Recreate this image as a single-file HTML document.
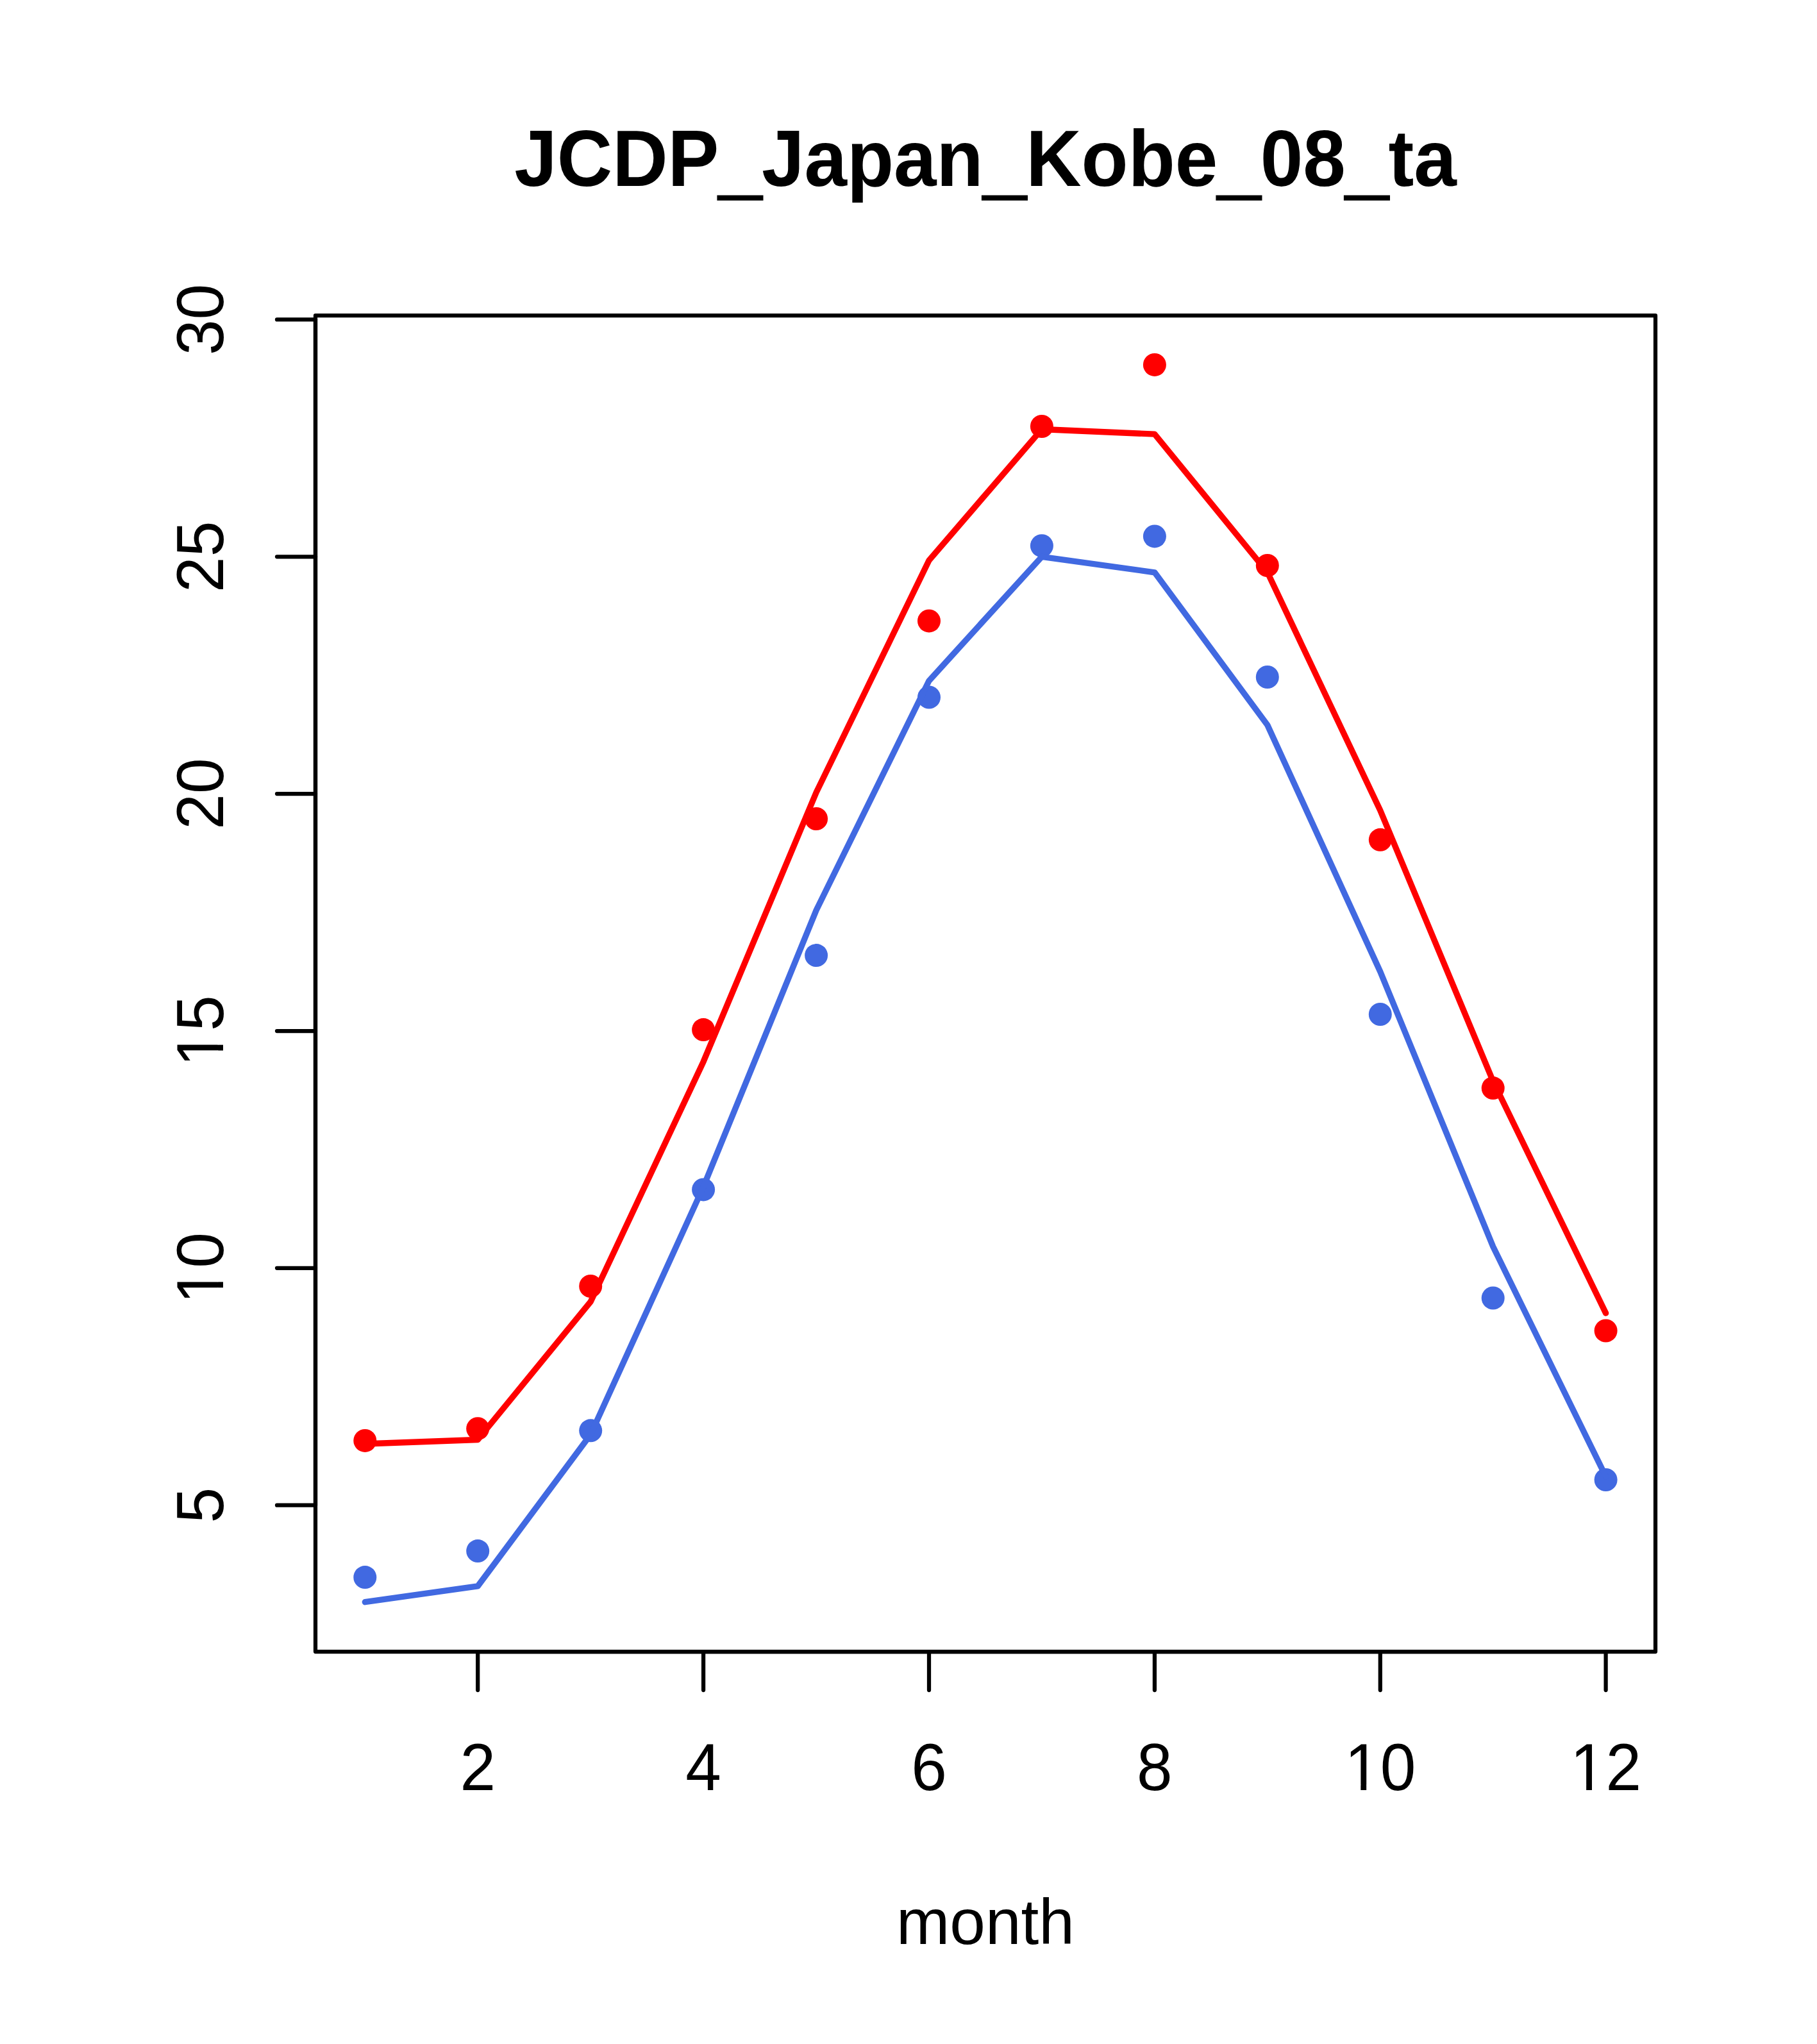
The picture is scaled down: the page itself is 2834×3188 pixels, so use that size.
<!DOCTYPE html>
<html lang="en"><head><meta charset="utf-8"><title>JCDP_Japan_Kobe_08_ta</title>
<style>html,body{margin:0;padding:0;background:#fff}body{width:2834px;height:3188px;overflow:hidden}svg{display:block}text{font-family:"Liberation Sans",sans-serif;fill:#000}</style></head><body>
<svg width="2834" height="3188" viewBox="0 0 2834 3188">
<rect x="0" y="0" width="2834" height="3188" fill="#fff"/>
<g fill="#FF0000" stroke="none"><circle cx="569.3" cy="2246.9" r="18"/><circle cx="745.2" cy="2228.2" r="18"/><circle cx="921.2" cy="2006.0" r="18"/><circle cx="1097.1" cy="1606.1" r="18"/><circle cx="1273.1" cy="1277.0" r="18"/><circle cx="1449.0" cy="968.4" r="18"/><circle cx="1624.9" cy="665.0" r="18"/><circle cx="1800.9" cy="568.9" r="18"/><circle cx="1976.8" cy="882.0" r="18"/><circle cx="2152.8" cy="1309.8" r="18"/><circle cx="2328.7" cy="1697.1" r="18"/><circle cx="2504.6" cy="2075.5" r="18"/></g>
<g fill="#4169E1" stroke="none"><circle cx="569.3" cy="2460.1" r="18"/><circle cx="745.2" cy="2419.1" r="18"/><circle cx="921.2" cy="2231.3" r="18"/><circle cx="1097.1" cy="1855.4" r="18"/><circle cx="1273.1" cy="1490.1" r="18"/><circle cx="1449.0" cy="1087.5" r="18"/><circle cx="1624.9" cy="851.2" r="18"/><circle cx="1800.9" cy="836.4" r="18"/><circle cx="1976.8" cy="1056.0" r="18"/><circle cx="2152.8" cy="1582.0" r="18"/><circle cx="2328.7" cy="2024.5" r="18"/><circle cx="2504.6" cy="2308.0" r="18"/></g>
<polyline points="569.3,2252.0 745.2,2245.5 921.2,2030.2 1097.1,1655.9 1273.1,1236.0 1449.0,874.0 1624.9,669.5 1800.9,677.1 1976.8,892.6 2152.8,1264.0 2328.7,1686.2 2504.6,2048.1" fill="none" stroke="#FF0000" stroke-width="9.375" stroke-linecap="round" stroke-linejoin="round"/>
<polyline points="569.3,2498.7 745.2,2473.9 921.2,2237.4 1097.1,1851.1 1273.1,1419.7 1449.0,1061.8 1624.9,868.3 1800.9,892.8 1976.8,1130.7 2152.8,1515.5 2328.7,1944.3 2504.6,2303.0" fill="none" stroke="#4169E1" stroke-width="9.375" stroke-linecap="round" stroke-linejoin="round"/>
<g stroke="#000" stroke-width="6.25" stroke-linecap="round" stroke-linejoin="round" fill="none">
<line x1="745.2" y1="2576.0" x2="2504.6" y2="2576.0"/>
<line x1="745.2" y1="2576.0" x2="745.2" y2="2636.0"/>
<line x1="1097.1" y1="2576.0" x2="1097.1" y2="2636.0"/>
<line x1="1449.0" y1="2576.0" x2="1449.0" y2="2636.0"/>
<line x1="1800.9" y1="2576.0" x2="1800.9" y2="2636.0"/>
<line x1="2152.8" y1="2576.0" x2="2152.8" y2="2636.0"/>
<line x1="2504.6" y1="2576.0" x2="2504.6" y2="2636.0"/>
<line x1="492.0" y1="2347.7" x2="492.0" y2="498.4"/>
<line x1="492.0" y1="2347.7" x2="432.0" y2="2347.7"/>
<line x1="492.0" y1="1977.8" x2="432.0" y2="1977.8"/>
<line x1="492.0" y1="1608.0" x2="432.0" y2="1608.0"/>
<line x1="492.0" y1="1238.1" x2="432.0" y2="1238.1"/>
<line x1="492.0" y1="868.3" x2="432.0" y2="868.3"/>
<line x1="492.0" y1="498.4" x2="432.0" y2="498.4"/>
<rect x="492.0" y="492.0" width="2090.0" height="2084.0"/>
</g>
<g font-size="100" text-anchor="middle">
<text transform="translate(745.2,2792) scale(1,1.033)">2</text>
<text transform="translate(1097.1,2792) scale(1,1.033)">4</text>
<text transform="translate(1449.0,2792) scale(1,1.033)">6</text>
<text transform="translate(1800.9,2792) scale(1,1.033)">8</text>
<g transform="translate(2152.8,2792) scale(1,1.033)"><text>10</text><rect x="-49.02" y="-8.06" width="18.55" height="8.79" fill="#fff"/><rect x="-21.63" y="-8.06" width="17.77" height="8.79" fill="#fff"/></g>
<g transform="translate(2504.6,2792) scale(1,1.033)"><text>12</text><rect x="-49.02" y="-8.06" width="18.55" height="8.79" fill="#fff"/><rect x="-21.63" y="-8.06" width="17.77" height="8.79" fill="#fff"/></g>
<text transform="translate(348,2347.7) rotate(-90) scale(1,1.033)">5</text>
<g transform="translate(348,1977.8) rotate(-90) scale(1,1.033)"><text>10</text><rect x="-49.02" y="-8.06" width="18.55" height="8.79" fill="#fff"/><rect x="-21.63" y="-8.06" width="17.77" height="8.79" fill="#fff"/></g>
<g transform="translate(348,1608.0) rotate(-90) scale(1,1.033)"><text>15</text><rect x="-49.02" y="-8.06" width="18.55" height="8.79" fill="#fff"/><rect x="-21.63" y="-8.06" width="17.77" height="8.79" fill="#fff"/></g>
<text transform="translate(348,1238.1) rotate(-90) scale(1,1.033)">20</text>
<text transform="translate(348,868.3) rotate(-90) scale(1,1.033)">25</text>
<text transform="translate(348,498.4) rotate(-90) scale(1,1.033)">30</text>
<text x="1537.0" y="3032">month</text>
</g>
<text transform="translate(1537.0,290) scale(0.997,1.04)" font-size="120" font-weight="bold" text-anchor="middle">JCDP<tspan dy="5.9" stroke="#000" stroke-width="3.4">_</tspan><tspan dy="-5.9">Japan</tspan><tspan dy="5.9" stroke="#000" stroke-width="3.4">_</tspan><tspan dy="-5.9">Kobe</tspan><tspan dy="5.9" stroke="#000" stroke-width="3.4">_</tspan><tspan dy="-5.9">08</tspan><tspan dy="5.9" stroke="#000" stroke-width="3.4">_</tspan><tspan dy="-5.9">ta</tspan></text>
</svg></body></html>
